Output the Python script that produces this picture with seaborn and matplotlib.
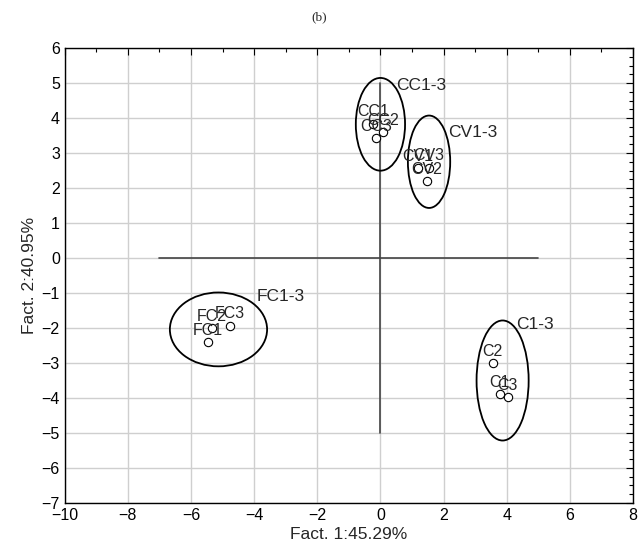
import matplotlib
matplotlib.use("Agg")
import matplotlib.pyplot as plt
from matplotlib.patches import Ellipse
from matplotlib.ticker import MultipleLocator
import pandas as pd
import seaborn as sns

# puntos de las muestras
samples = ["CC1", "CC2", "CC3", "CV1", "CV2", "CV3", "FC1", "FC2", "FC3", "C1", "C2", "C3"]
fact1 = [-0.24, 0.07, -0.13, 1.19, 1.47, 1.54, -5.46, -5.35, -4.77, 3.78, 3.55, 4.03]
fact2 = [3.84, 3.60, 3.43, 2.56, 2.19, 2.58, -2.40, -2.00, -1.93, -3.89, -3.00, -3.97]

# grupos (elipses)
groups = ["CC1-3", "CV1-3", "FC1-3", "C1-3"]
grp_x = [0.0, 1.54, -5.13, 3.87]
grp_y = [3.82, 2.75, -2.04, -3.50]
grp_w = [1.56, 1.34, 3.08, 1.65]
grp_h = [2.65, 2.64, 2.11, 3.43]
grp_lx = [0.51, 2.13, -3.92, 4.31]
grp_ly = [4.92, 3.58, -1.10, -1.90]

df = pd.DataFrame({"f1": fact1, "f2": fact2, "name": samples})

sns.set_style("white")
plt.rcParams["font.family"] = ["Liberation Sans", "DejaVu Sans"]

fig = plt.figure(figsize=(6.39, 5.55), dpi=100)
ax = fig.add_axes([0.1013, 0.0937, 0.8893, 0.8198])

ax.set_xlim(-10, 8)
ax.set_ylim(-7, 6)
ax.xaxis.set_major_locator(MultipleLocator(2))
ax.xaxis.set_minor_locator(MultipleLocator(1))
ax.yaxis.set_major_locator(MultipleLocator(1))
ax.yaxis.set_minor_locator(MultipleLocator(0.25))
ax.grid(True, which="major", color="#cfcfcf", linewidth=1.0)
ax.set_axisbelow(True)
ax.tick_params(which="both", direction="in", top=True, right=True, labelsize=11.5, colors="black")
ax.tick_params(which="major", length=5, width=0.8)
ax.tick_params(which="minor", length=3, width=0.8)
for s in ax.spines.values():
    s.set_color("black")
    s.set_linewidth(1.0)

# ejes de referencia
ax.plot([-7, 5], [0, 0], color="#444444", lw=1.2, zorder=2)
ax.plot([0, 0], [-5, 5], color="#444444", lw=1.2, zorder=2)

sns.scatterplot(data=df, x="f1", y="f2", ax=ax, marker="o", s=36,
                facecolor="white", edgecolor="black", linewidth=0.8, zorder=4, legend=False)

for n, x, y in zip(samples, fact1, fact2):
    ax.annotate(n, (x, y), xytext=(0, 8.5), textcoords="offset points",
                ha="center", va="center", fontsize=11.5, zorder=5)

for g, x, y, w, h, lx, ly in zip(groups, grp_x, grp_y, grp_w, grp_h, grp_lx, grp_ly):
    ax.add_patch(Ellipse((x, y), w, h, fill=False, edgecolor="black", lw=1.3, zorder=3))
    ax.text(lx, ly, g, ha="left", va="center", fontsize=12.5, zorder=5)

ax.set_xlabel("Fact. 1:45.29%", fontsize=12.5, labelpad=3)
ax.set_ylabel("Fact. 2:40.95%", fontsize=12.5, labelpad=3)
fig.text(0.5, 0.968, "(b)", ha="center", va="center", fontsize=9.5, family="Liberation Serif")

fig.savefig("out.png", dpi=100, facecolor="white")
